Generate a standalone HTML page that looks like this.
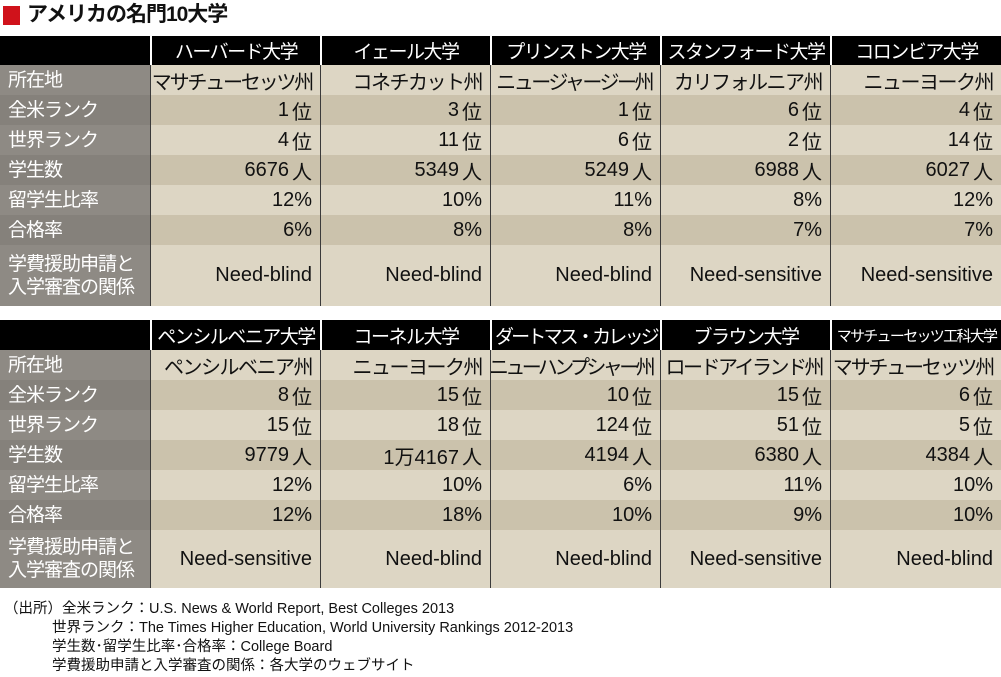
<!DOCTYPE html>
<html><head><meta charset="utf-8"><style>
*{margin:0;padding:0;box-sizing:border-box}
body{width:1001px;height:677px;background:#fff;position:relative;overflow:hidden;font-family:"Liberation Sans","Noto Sans CJK JP",sans-serif;color:#111}
.row{position:absolute;left:0;width:1001px;display:flex}
.row div{height:100%;display:flex;align-items:center;white-space:nowrap;overflow:hidden}
.lab{width:150px;color:#fff;font-size:19px;padding-left:8px;line-height:23px;letter-spacing:-1px}
.c{width:170px;justify-content:flex-end;padding-right:8px;font-size:20px;border-left:1px solid #3a3a3a}
.c:last-child{width:171px}
.p{letter-spacing:-1.5px}
.hd{background:#000}
.hd .lab{background:#000}
.hd .c{justify-content:center;color:#fff;border-left:2px solid #fff;padding-right:0;font-size:19px;letter-spacing:-1.5px}
.l{background:#ddd6c4}.l .lab{background:#8e8a84}
.d{background:#cbc2ac}.d .lab{background:#85817b}
.c span{margin-left:3px}
.foot{position:absolute;left:4px;top:600px;font-size:14.5px;line-height:19px;color:#111;white-space:nowrap}
</style></head><body>
<div style="position:absolute;left:3px;top:6px;width:17px;height:19px;background:#d0121b"></div>
<div style="position:absolute;left:27px;top:2px;font-size:21px;font-weight:bold;line-height:26px;letter-spacing:-1px">アメリカの名門10大学</div>

<div class="row hd" style="top:36px;height:29px"><div class="lab"></div><div class="c">ハーバード大学</div><div class="c">イェール大学</div><div class="c">プリンストン大学</div><div class="c">スタンフォード大学</div><div class="c">コロンビア大学</div></div>
<div class="row l" style="top:65px;height:30px"><div class="lab">所在地</div><div class="c p" style="letter-spacing:-2.2px">マサチューセッツ州</div><div class="c p">コネチカット州</div><div class="c p" style="letter-spacing:-2.5px">ニュージャージー州</div><div class="c p">カリフォルニア州</div><div class="c p">ニューヨーク州</div></div>
<div class="row d" style="top:95px;height:30px"><div class="lab">全米ランク</div><div class="c">1<span>位</span></div><div class="c">3<span>位</span></div><div class="c">1<span>位</span></div><div class="c">6<span>位</span></div><div class="c">4<span>位</span></div></div>
<div class="row l" style="top:125px;height:30px"><div class="lab">世界ランク</div><div class="c">4<span>位</span></div><div class="c">11<span>位</span></div><div class="c">6<span>位</span></div><div class="c">2<span>位</span></div><div class="c">14<span>位</span></div></div>
<div class="row d" style="top:155px;height:30px"><div class="lab">学生数</div><div class="c">6676<span>人</span></div><div class="c">5349<span>人</span></div><div class="c">5249<span>人</span></div><div class="c">6988<span>人</span></div><div class="c">6027<span>人</span></div></div>
<div class="row l" style="top:185px;height:30px"><div class="lab">留学生比率</div><div class="c">12%</div><div class="c">10%</div><div class="c">11%</div><div class="c">8%</div><div class="c">12%</div></div>
<div class="row d" style="top:215px;height:30px"><div class="lab">合格率</div><div class="c">6%</div><div class="c">8%</div><div class="c">8%</div><div class="c">7%</div><div class="c">7%</div></div>
<div class="row l" style="top:245px;height:61px"><div class="lab">学費援助申請と<br>入学審査の関係</div><div class="c">Need-blind</div><div class="c">Need-blind</div><div class="c">Need-blind</div><div class="c">Need-sensitive</div><div class="c">Need-sensitive</div></div>

<div class="row hd" style="top:320px;height:30px"><div class="lab"></div><div class="c">ペンシルベニア大学</div><div class="c">コーネル大学</div><div class="c" style="letter-spacing:-2.8px">ダートマス・カレッジ</div><div class="c">ブラウン大学</div><div class="c" style="font-size:15px;letter-spacing:-1.7px">マサチューセッツ工科大学</div></div>
<div class="row l" style="top:350px;height:30px"><div class="lab">所在地</div><div class="c p">ペンシルベニア州</div><div class="c p">ニューヨーク州</div><div class="c" style="letter-spacing:-3.6px">ニューハンプシャー州</div><div class="c" style="letter-spacing:-2.5px">ロードアイランド州</div><div class="c" style="letter-spacing:-2.2px">マサチューセッツ州</div></div>
<div class="row d" style="top:380px;height:30px"><div class="lab">全米ランク</div><div class="c">8<span>位</span></div><div class="c">15<span>位</span></div><div class="c">10<span>位</span></div><div class="c">15<span>位</span></div><div class="c">6<span>位</span></div></div>
<div class="row l" style="top:410px;height:30px"><div class="lab">世界ランク</div><div class="c">15<span>位</span></div><div class="c">18<span>位</span></div><div class="c">124<span>位</span></div><div class="c">51<span>位</span></div><div class="c">5<span>位</span></div></div>
<div class="row d" style="top:440px;height:30px"><div class="lab">学生数</div><div class="c">9779<span>人</span></div><div class="c">1万4167<span>人</span></div><div class="c">4194<span>人</span></div><div class="c">6380<span>人</span></div><div class="c">4384<span>人</span></div></div>
<div class="row l" style="top:470px;height:30px"><div class="lab">留学生比率</div><div class="c">12%</div><div class="c">10%</div><div class="c">6%</div><div class="c">11%</div><div class="c">10%</div></div>
<div class="row d" style="top:500px;height:30px"><div class="lab">合格率</div><div class="c">12%</div><div class="c">18%</div><div class="c">10%</div><div class="c">9%</div><div class="c">10%</div></div>
<div class="row l" style="top:530px;height:58px"><div class="lab">学費援助申請と<br>入学審査の関係</div><div class="c">Need-sensitive</div><div class="c">Need-blind</div><div class="c">Need-blind</div><div class="c">Need-sensitive</div><div class="c">Need-blind</div></div>

<div class="foot">（出所）全米ランク：U.S. News &amp; World Report, Best Colleges 2013<br>
<span style="padding-left:48px">世界ランク：The Times Higher Education, World University Rankings 2012-2013</span><br>
<span style="padding-left:48px">学生数･留学生比率･合格率：College Board</span><br>
<span style="padding-left:48px">学費援助申請と入学審査の関係：各大学のウェブサイト</span></div>
</body></html>
